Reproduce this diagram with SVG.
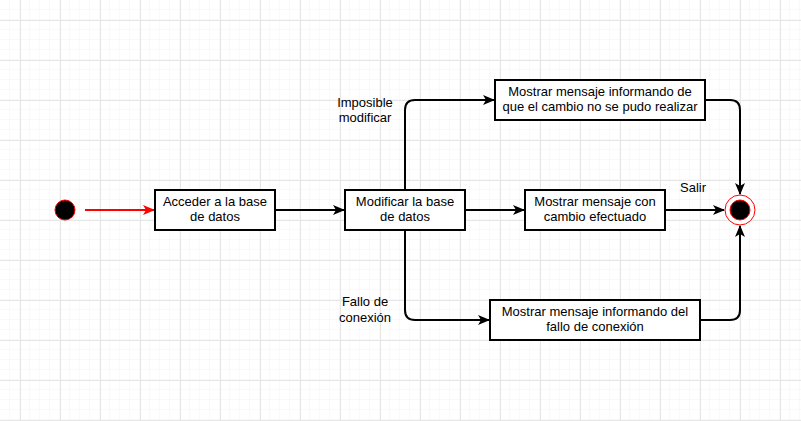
<svg xmlns="http://www.w3.org/2000/svg" width="801" height="421" viewBox="0 0 801 421">
<defs>
<pattern id="minor" width="10" height="10" patternUnits="userSpaceOnUse">
<path d="M10 0V10M0 10H10" fill="none" stroke="#f3f3f3" stroke-width="1"/>
</pattern>
<pattern id="major" x="20" y="20" width="40" height="40" patternUnits="userSpaceOnUse">
<path d="M0.5 0V40M0 0.5H40" fill="none" stroke="#e6e6e6" stroke-width="1"/>
</pattern>
<marker id="arr" viewBox="0 0 12 10" refX="11" refY="5" markerWidth="12" markerHeight="10" markerUnits="userSpaceOnUse" orient="auto">
<path d="M0 0L12 5L0 10L3 5Z" fill="#000"/>
</marker>
<marker id="arrR" viewBox="0 0 12 10" refX="11" refY="5" markerWidth="12" markerHeight="10" markerUnits="userSpaceOnUse" orient="auto">
<path d="M0 0L12 5L0 10L3 5Z" fill="#ff0000"/>
</marker>
</defs>
<style>
.box{fill:#fff;stroke:#000;stroke-width:2}
.t{font-family:"Liberation Sans",Arial,sans-serif;font-size:13px;fill:#000;text-anchor:middle}
.c{fill:none;stroke:#000;stroke-width:2;marker-end:url(#arr)}
</style>
<rect width="801" height="421" fill="#fff"/>
<rect width="801" height="421" fill="url(#minor)"/>
<rect width="801" height="421" fill="url(#major)"/>

<g id="connectors">
<path d="M85 210H154" fill="none" stroke="#ff0000" stroke-width="2" marker-end="url(#arrR)"/>
<path class="c" d="M275 210H344"/>
<path class="c" d="M465 210H524"/>
<path class="c" d="M665 210H724"/>
<path class="c" d="M405 190V110Q405 100 415 100H494"/>
<path class="c" d="M405 230V310Q405 320 415 320H489"/>
<path class="c" d="M705 100H730Q740 100 740 110V194"/>
<path class="c" d="M700 320H730Q740 320 740 310V226"/>
<text class="t" x="365" y="107">Imposible</text>
<text class="t" x="365" y="122">modificar</text>
<text class="t" x="365" y="306">Fallo de</text>
<text class="t" x="365" y="322">conexión</text>
<text class="t" x="693" y="192">Salir</text>
</g>

<g id="start">
<circle cx="65" cy="210" r="10" fill="#000" stroke="#ff0000" stroke-width="1"/>
</g>
<g id="acceder">
<rect class="box" x="155" y="190" width="120" height="40"/>
<text class="t" x="215" y="206">Acceder a la base</text>
<text class="t" x="215" y="221">de datos</text>
</g>
<g id="modificar">
<rect class="box" x="345" y="190" width="120" height="40"/>
<text class="t" x="405" y="206">Modificar la base</text>
<text class="t" x="405" y="221">de datos</text>
</g>
<g id="exito">
<rect class="box" x="525" y="190" width="140" height="40"/>
<text class="t" x="595" y="206">Mostrar mensaje con</text>
<text class="t" x="595" y="221">cambio efectuado</text>
</g>
<g id="imposible">
<rect class="box" x="495" y="80" width="210" height="40"/>
<text class="t" x="600" y="96">Mostrar mensaje informando de</text>
<text class="t" x="600" y="111">que el cambio no se pudo realizar</text>
</g>
<g id="fallo">
<rect class="box" x="490" y="300" width="210" height="40"/>
<text class="t" x="595" y="316">Mostrar mensaje informando del</text>
<text class="t" x="595" y="331">fallo de conexión</text>
</g>
<g id="end">
<circle cx="740" cy="210" r="15" fill="#fff" stroke="#ff0000" stroke-width="1"/>
<circle cx="740" cy="210" r="10" fill="#000" stroke="#ff0000" stroke-width="1"/>
</g>
</svg>
